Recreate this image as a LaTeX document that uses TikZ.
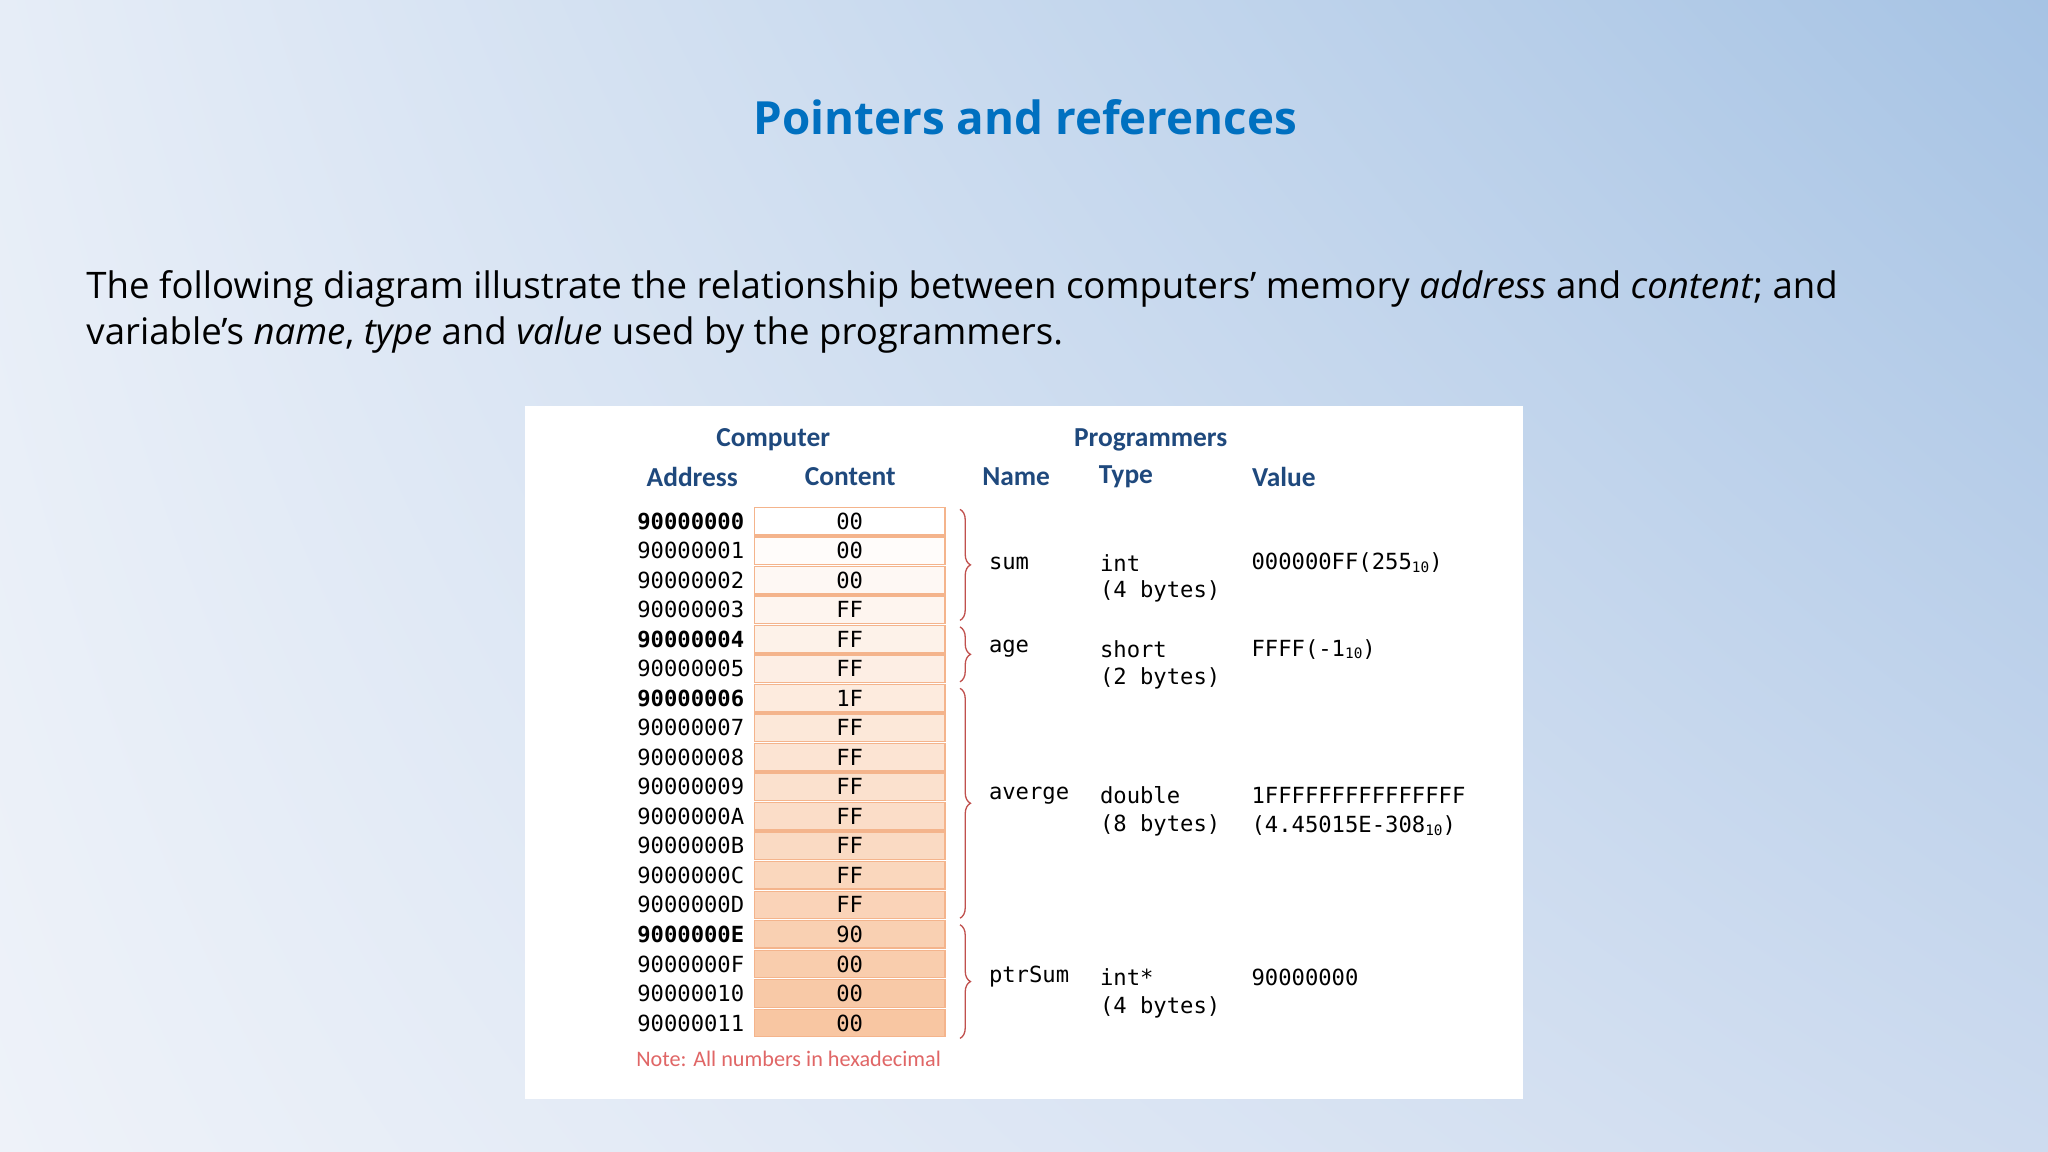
\documentclass[tikz,border=0pt]{standalone}
\usepackage{fontspec}
\setmainfont{Open Sans}
\newfontfamily\calfnt{Carlito}
\newfontfamily\monofnt{DejaVu Sans Mono}
\usetikzlibrary{decorations.pathreplacing,shadings}
\definecolor{ttl}{HTML}{0070C0}
\definecolor{hdr}{HTML}{1F497D}
\definecolor{peach}{RGB}{248,198,162}
\definecolor{cellline}{RGB}{244,180,140}
\definecolor{brc}{HTML}{C0504D}
\definecolor{note}{HTML}{E06666}
\definecolor{bgul}{RGB}{230,237,247}
\definecolor{bgur}{RGB}{166,195,228}
\definecolor{bgll}{RGB}{238,242,249}
\definecolor{bglr}{RGB}{205,219,239}
\newcommand{\sbt}[1]{\raisebox{-2pt}{\fontsize{11}{11}\selectfont #1}}
\tikzset{
  hd/.style={font=\calfnt\fontsize{21}{21}\selectfont\bfseries, text=hdr, inner sep=0pt},
  addr/.style={font=\monofnt\fontsize{17}{17}\selectfont, anchor=east, inner sep=0pt},
  txt/.style={font=\monofnt\fontsize{17}{17}\selectfont, anchor=west, inner sep=0pt},
  brace/.style={draw=brc, line width=1pt, decorate, decoration={brace, amplitude=8pt}}
}
\begin{document}
\begin{tikzpicture}[x=1pt,y=-1pt]
\useasboundingbox (0,0) rectangle (1568,882);
\shade[upper left=bgul, upper right=bgur, lower left=bgll, lower right=bglr]
  (0,0) rectangle (1568,882);
\node[text=ttl, font=\fontsize{35}{35}\selectfont\bfseries] (title) at (785,90) {Pointers and references};
\node[anchor=north west, inner sep=0pt, align=left, font=\fontsize{28}{35}\selectfont] (para) at (66,207)
 {The following diagram illustrate the relationship between computers' memory \textit{address} and \textit{content}; and\\
  variable's \textit{name}, \textit{type} and \textit{value} used by the programmers.};
\node[fill=white, minimum width=764pt, minimum height=530pt, anchor=north west, inner sep=0pt] (panel) at (402,311) {};
\node[hd] (hcomp) at (592,337) {Computer};
\node[hd] (hprog) at (881,337) {Programmers};
\node[hd] (haddr) at (530,365) {Address};
\node[hd] (hcont) at (651,365) {Content};
\node[hd] (hname) at (778,365) {Name};
\node[hd] (htype) at (862,365) {Type};
\node[hd] (hval) at (983,365) {Value};
\foreach \a/\c/\b [count=\i from 0] in {90000000/00/1,90000001/00/0,90000002/00/0,90000003/FF/0,90000004/FF/1,90000005/FF/0,90000006/1F/1,90000007/FF/0,90000008/FF/0,90000009/FF/0,9000000A/FF/0,9000000B/FF/0,9000000C/FF/0,9000000D/FF/0,9000000E/90/1,9000000F/00/0,90000010/00/0,90000011/00/0}{
  \pgfmathsetmacro{\yy}{399+\i*22.6}
  \pgfmathsetmacro{\pc}{\i*100/17}
  \node[draw=cellline, line width=1pt, fill=peach!\pc!white, minimum width=146pt, minimum height=21pt, inner sep=0pt, font=\monofnt\fontsize{17}{17}\selectfont] (c\i) at (650.5,\yy) {\c};
  \ifnum\b=1
    \node[addr, font=\monofnt\fontsize{17}{17}\selectfont\bfseries] (a\i) at (570,\yy) {\a};
  \else
    \node[addr] (a\i) at (570,\yy) {\a};
  \fi
}
\coordinate (b0t) at (735,390); \coordinate (b0b) at (735,475);
\coordinate (b1t) at (735,480); \coordinate (b1b) at (735,522);
\coordinate (b2t) at (735,527); \coordinate (b2b) at (735,703);
\coordinate (b3t) at (735,708); \coordinate (b3b) at (735,795);
\draw[brace] (b0t) -- (b0b);
\draw[brace] (b1t) -- (b1b);
\draw[brace] (b2t) -- (b2b);
\draw[brace] (b3t) -- (b3b);
\node[txt] (n0) at (757,431) {sum};
\node[txt] (n1) at (757,497) {age};
\node[txt] (n2) at (757,609) {averge};
\node[txt] (n3) at (757,748) {ptrSum};
\node[txt] (t0) at (842,431) {int};
\node[txt] (t0b) at (842,453) {(4 bytes)};
\node[txt] (t1) at (842,497) {short};
\node[txt] (t1b) at (842,519) {(2 bytes)};
\node[txt] (t2) at (842,609) {double};
\node[txt] (t2b) at (842,632) {(8 bytes)};
\node[txt] (t3) at (842,748) {int*};
\node[txt] (t3b) at (842,771) {(4 bytes)};
\node[txt] (v0) at (958,431) {000000FF(255\sbt{10})};
\node[txt] (v1) at (958,497) {FFFF(-1\sbt{10})};
\node[txt] (v2) at (958,609) {1FFFFFFFFFFFFFFF};
\node[txt] (v2b) at (958,632) {(4.45015E-308\sbt{10})};
\node[txt] (v3) at (958,748) {90000000};
\node[anchor=west, inner sep=0pt, text=note, font=\calfnt\fontsize{17}{17}\selectfont] (nt) at (487,811) {Note: All numbers in hexadecimal};
\end{tikzpicture}
\end{document}
